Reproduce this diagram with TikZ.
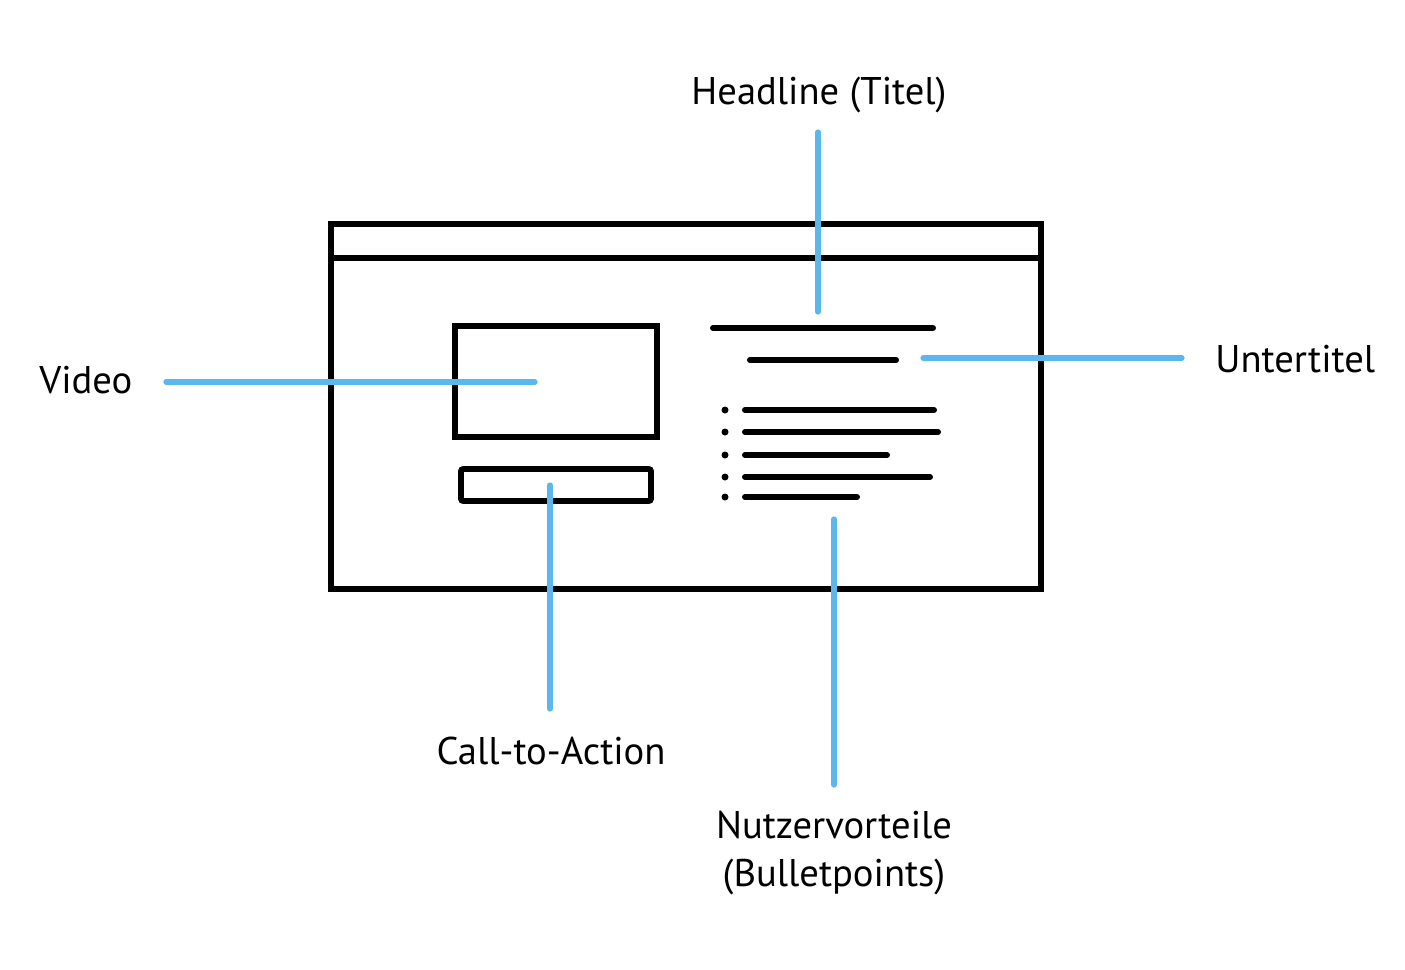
\documentclass[tikz,border=0pt]{standalone}
\usepackage{fontspec}
\setmainfont{PT Sans}
\definecolor{callout}{HTML}{5BB8EE}
\begin{document}
\begin{tikzpicture}[x=0.5pt,y=-0.5pt,
  frame/.style={draw=black,line width=3pt},
  textline/.style={draw=black,line width=3pt,line cap=round},
  bulletdot/.style={circle,fill=black,inner sep=0pt,minimum size=3.5pt},
  callline/.style={draw=callout,line width=2.6pt,line cap=round},
  lbl/.style={font=\fontsize{19.3}{24}\selectfont,inner sep=0pt,text=black}]
\useasboundingbox (0,0) rectangle (1405,970);
% window
\draw[frame] (331,224) rectangle (1041,589);
\draw[frame] (331,258) -- (1041,258);
% video and cta
\draw[frame,line width=2.8pt] (455,326) rectangle (657,437);
\draw[frame,line width=2.8pt,rounded corners=1pt] (461,469) rectangle (651,501);
% headline and subtitle
\draw[textline] (713,328) -- (933,328);
\draw[textline] (750,360) -- (896,360);
% bullets
\foreach \y/\e [count=\i] in {410/934,432/938,455/887,477/930,497/857}{
  \node[bulletdot] (b\i) at (725,\y) {};
  \draw[textline] (745,\y) -- (\e,\y);
}
% labels
\node[lbl] (headline) at (819,95) {Headline (Titel)};
\node[lbl,anchor=west] (untertitel) at (1215,359) {Untertitel};
\node[lbl,anchor=west] (video) at (39,380) {Video};
\node[lbl] (cta) at (551,751) {Call-to-Action};
\node[lbl,align=center] (nutzer) at (834,853) {Nutzervorteile\\(Bulletpoints)};
% callout ends
\coordinate (hA) at (818,132); \coordinate (hB) at (818,312);
\coordinate (uA) at (1182,358); \coordinate (uB) at (923,358);
\coordinate (vA) at (166,382); \coordinate (vB) at (535,382);
\coordinate (cA) at (550,709); \coordinate (cB) at (550,485);
\coordinate (nA) at (834,785); \coordinate (nB) at (834,519);
\draw[callline] (hA) -- (hB);
\draw[callline] (uA) -- (uB);
\draw[callline] (vA) -- (vB);
\draw[callline] (cA) -- (cB);
\draw[callline] (nA) -- (nB);
\end{tikzpicture}
\end{document}
